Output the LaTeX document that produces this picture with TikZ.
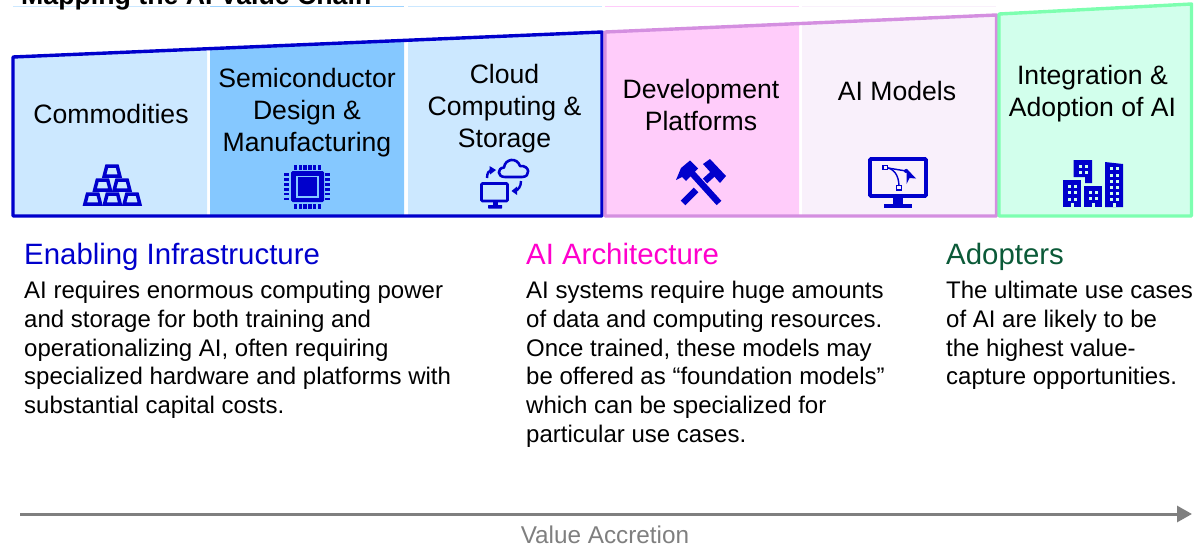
\documentclass[tikz,border=0pt]{standalone}
\usepackage{fontspec}
\setmainfont{Liberation Sans}
\usetikzlibrary{arrows.meta,calc}
\definecolor{ibm}{HTML}{0000CC}
\definecolor{fa}{HTML}{CCE8FF}
\definecolor{fb}{HTML}{85C8FF}
\definecolor{fc}{HTML}{FFCCFA}
\definecolor{fd}{HTML}{F9F0FB}
\definecolor{fe}{HTML}{D2FFEC}
\definecolor{bp}{HTML}{D48FE0}
\definecolor{bg}{HTML}{7DFFB0}
\definecolor{hp}{HTML}{FF00CC}
\definecolor{hg}{HTML}{0B5A38}
\definecolor{gr}{HTML}{7F7F7F}
\tikzset{
  boxlabel/.style={align=center,inner sep=0pt,font=\fontsize{26.6}{32}\selectfont,text=black},
  heading/.style={anchor=base west,inner sep=0pt,font=\fontsize{29.4}{34}\selectfont},
  bodytext/.style={anchor=north west,align=left,inner sep=0pt,font=\fontsize{24}{28.8}\selectfont,text=black},
  frame/.style={line width=3.4pt,line join=round,fill=none},
  topline/.style={line width=1pt},
  icoline/.style={draw=ibm,fill=none},
  goldbar/.pic={\draw[icoline,line width=3.5pt,line join=miter] (-7.8,5) -- (-5.2,-5) -- (5.2,-5) -- (7.8,5) -- cycle;}
}
\begin{document}
\begin{tikzpicture}[x=1pt,y=-1pt]
\useasboundingbox (0,0) rectangle (1196,546);
% faint top lines
\draw[topline,draw=fa] (13,6) -- (207,6);
\draw[topline,draw=fb!80] (210,6) -- (404,6);
\draw[topline,draw=fa] (408,6) -- (602,6);
\draw[topline,draw=fc] (605,6) -- (799,6);
\draw[topline,draw=fd] (802,6) -- (996,6);
% title
\node[anchor=base west,inner sep=0pt,font=\fontsize{26.7}{30}\selectfont\bfseries] (title) at (21,5) {Mapping the AI Value Chain};
% fills
\fill[fa] (13,57) -- (207,49) -- (207,216) -- (13,216) -- cycle;
\fill[fb] (210,48.5) -- (404,40.5) -- (404,216) -- (210,216) -- cycle;
\fill[fa] (408,40) -- (602,32) -- (602,216) -- (408,216) -- cycle;
\fill[fc] (605,32) -- (799,24) -- (799,216) -- (605,216) -- cycle;
\fill[fd] (802,24) -- (997,15) -- (997,216) -- (802,216) -- cycle;
\fill[fe] (999,14) -- (1192,4) -- (1192,216) -- (999,216) -- cycle;
% frames
\draw[frame,draw=ibm] (13,57) -- (602,32) -- (602,216) -- (13,216) -- cycle;
\draw[frame,draw=bp] (605,32) -- (996.5,15) -- (996.5,216) -- (605,216) -- cycle;
\draw[frame,draw=bg] (999,14) -- (1191.5,4) -- (1191.5,216) -- (999,216) -- cycle;
% box labels
\node[boxlabel] (n1) at (111,113.5) {Commodities};
\node[boxlabel] (n2) at (307,112.5) {Semiconductor\\Design \&\\Manufacturing};
\node[boxlabel] (n3) at (504.5,108.5) {Cloud\\Computing \&\\Storage};
\node[boxlabel] (n4) at (701,105) {Development\\Platforms};
\node[boxlabel] (n5) at (897,91) {AI Models};
\node[boxlabel] (n6) at (1092.5,93.5) {Integration \&\\Adoption of AI};
% gold bars
\foreach \p in {(112,171),(92.7,199),(112.4,199),(132,199),(102.5,185),(122,185)} \pic at \p {goldbar};
% chip
\fill[ibm,rounded corners=1.5pt] (291,171) rectangle (324,202);
\draw[fb,line width=1.8pt] (297,176.5) rectangle (318,197);
\foreach \i in {0,1,2,3,4,5}{
  \fill[ibm] ({294+\i*4.7},164.5) rectangle ++(3.4,5);
  \fill[ibm] ({294+\i*4.7},203.5) rectangle ++(3.4,5.5);
  \fill[ibm] (284,{173+\i*4.9}) rectangle ++(5,2.8);
  \fill[ibm] (325,{173+\i*4.9}) rectangle ++(5,2.8);
}
% cloud and computer
\draw[icoline,line width=2.8pt,rounded corners=1pt] (481.5,183.5) rectangle (507.5,201);
\fill[ibm] (492.5,201.5) rectangle (497.5,205);
\fill[ibm,rounded corners=.5pt] (488,205) rectangle (502,208.5);
\draw[icoline,line width=2.6pt,line join=round] (505,177) .. controls (497,177) and (497,168) .. (504,167.5) .. controls (505,158.5) and (517,157) .. (520,166) .. controls (530,165) and (531,177) .. (522,177) -- cycle;
\draw[icoline,line width=2.4pt] (487,178) .. controls (487,173) and (489,170.5) .. (491,170);
\fill[ibm] (489.5,166) -- (496,170) -- (490,174.5) -- cycle;
\draw[icoline,line width=2.4pt] (521,181) .. controls (521,187) and (518,190) .. (515,191);
\fill[ibm] (517,186.5) -- (511.5,191) -- (517,195) -- cycle;
% crossed hammers
\draw[ibm,line width=6.4pt] (690,171) -- (719,203);
\draw[ibm,line width=6.4pt] (683,203) -- (696,190);
\draw[ibm,line width=6.4pt] (705,181) -- (716,171);
\fill[ibm] (676,180) -- (681,168) -- (690,160.5) -- (698,168.5) -- (686,181) -- (682,177) -- cycle;
\fill[ibm] (703,164) -- (710,159) -- (726,176) -- (720,183) -- cycle;
% monitor with curve
\draw[icoline,line width=3.6pt,rounded corners=1pt] (870,159) rectangle (926,196);
\fill[ibm] (893,197) rectangle (903,204);
\fill[ibm] (884,203.5) rectangle (912,208);
\draw[icoline,line width=1.4pt] (885,167.5) .. controls (893,168) and (899,174) .. (899,187);
\draw[icoline,line width=1.4pt] (885,167.5) -- (906,171);
\fill[ibm] (906,171) circle (2);
\filldraw[fill=fd,draw=ibm,line width=1.2pt] (883,165.2) rectangle (887.6,169.8);
\filldraw[fill=fd,draw=ibm,line width=1.2pt] (896.7,185.5) rectangle (901.3,190);
\fill[ibm] (906.5,168.5) -- (916,178.5) -- (909.5,178) -- (906.5,184) -- cycle;
% buildings
\fill[ibm] (1063,180) rectangle (1081,207);
\fill[ibm] (1073.5,160) -- (1092,160) -- (1092,183) -- (1085,183) -- (1085,177) -- (1073.5,177) -- cycle;
\fill[ibm] (1084,186) rectangle (1102,207);
\fill[ibm] (1105,162) -- (1123,164) -- (1123,207) -- (1105,207) -- cycle;
\foreach \x in {1068,1074}\foreach \y in {184.5,191,197.5}{\fill[fe] (\x,\y) rectangle ++(3,3);}
\foreach \x in {1078.5,1084.5}\foreach \y in {164.5,171}{\fill[fe] (\x,\y) rectangle ++(3,3);}
\foreach \x in {1089,1095}\foreach \y in {190.5,197}{\fill[fe] (\x,\y) rectangle ++(3,3);}
\foreach \x in {1110,1116}\foreach \y in {167,173.5,180,186,192,198}{\fill[fe] (\x,\y) rectangle ++(3,3);}
\fill[fe] (1070.5,203) rectangle ++(3,4);
\fill[fe] (1091.5,203) rectangle ++(3,4);
\fill[fe] (1112.5,203) rectangle ++(3,4);
% headings
\node[heading,text=ibm] (h1) at (24,264) {Enabling Infrastructure};
\node[heading,text=hp] (h2) at (526,264) {AI Architecture};
\node[heading,text=hg] (h3) at (946,264) {Adopters};
% body
\node[bodytext] (b1) at (24,281) {AI requires enormous computing power\\and storage for both training and\\operationalizing AI, often requiring\\specialized hardware and platforms with\\substantial capital costs.};
\node[bodytext] (b2) at (526,281) {AI systems require huge amounts\\of data and computing resources.\\Once trained, these models may\\be offered as “foundation models”\\which can be specialized for\\particular use cases.};
\node[bodytext] (b3) at (946,281) {The ultimate use cases\\of AI are likely to be\\the highest value-\\capture opportunities.};
% arrow
\coordinate (as) at (20,514);
\coordinate (ae) at (1192,514);
\draw[gr,line width=3pt,-{Triangle[length=15pt,width=16pt]}] (as) -- (ae);
\node[inner sep=0pt,text=gr,font=\fontsize{24.3}{28}\selectfont] (va) at (605,534.5) {Value Accretion};
\end{tikzpicture}
\end{document}
